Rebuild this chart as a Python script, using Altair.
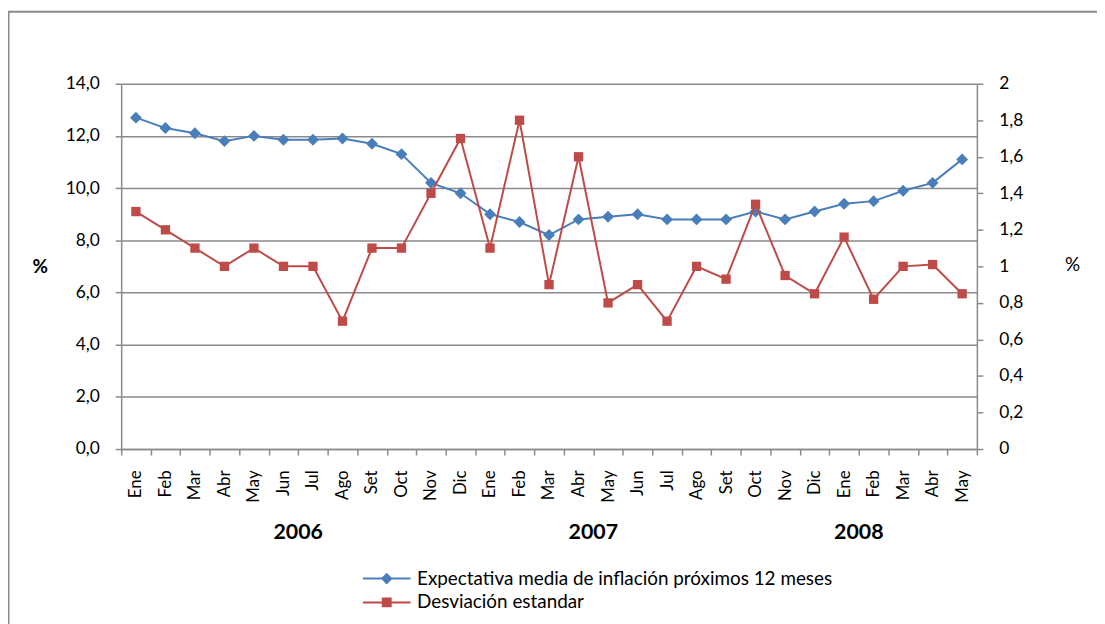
import altair as alt
import pandas as pd

# ---------------- data ----------------
meses = ["Ene", "Feb", "Mar", "Abr", "May", "Jun", "Jul", "Ago", "Set", "Oct", "Nov", "Dic"]
anios = ["2006", "2007", "2008"]
meses_por_anio = [12, 12, 5]

expectativa = [12.7, 12.3, 12.1, 11.8, 12.0, 11.85, 11.85, 11.9, 11.7, 11.3, 10.2, 9.8,
               9.0, 8.7, 8.2, 8.8, 8.9, 9.0, 8.8, 8.8, 8.8, 9.1, 8.8, 9.1,
               9.4, 9.5, 9.9, 10.2, 11.1]
desviacion = [1.3, 1.2, 1.1, 1.0, 1.1, 1.0, 1.0, 0.7, 1.1, 1.1, 1.4, 1.7,
              1.1, 1.8, 0.9, 1.6, 0.8, 0.9, 0.7, 1.0, 0.93, 1.34, 0.95, 0.85,
              1.16, 0.82, 1.0, 1.01, 0.85]

series = ["Expectativa media de inflación próximos 12 meses", "Desviación estandar"]
anio_ancla = ["Jul 2006", "May 2007", "Feb 2008"]
ticks_izq = [0, 2, 4, 6, 8, 10, 12, 14]
ticks_der = [0, 0.2, 0.4, 0.6, 0.8, 1.0, 1.2, 1.4, 1.6, 1.8, 2.0]

AZUL = "#4A7EBB"
ROJO = "#BE4B48"
GRIS = "#8A8A8A"
FUENTE = "Lato"

cats = [f"{m} {a}" for a, n in zip(anios, meses_por_anio) for m in meses[:n]]
df = pd.DataFrame({"mes": cats, "exp": expectativa, "desv": desviacion})
df_anios = pd.DataFrame({"mes": anio_ancla, "anio": anios})
df_leg = pd.DataFrame({"serie": series})
df_marco = pd.DataFrame({"k": [0]})

# ---------------- encodings ----------------
x_scale = alt.Scale(type="band", domain=cats, paddingInner=0, paddingOuter=0)
x_axis = alt.Axis(
    title=None,
    labelExpr="isValid(datum.value) ? split(datum.value, ' ')[0] : ''",
    labelAngle=270,
    labelAlign="right", labelBaseline="middle", labelPadding=15,
    labelFont=FUENTE, labelFontSize=17, labelColor="#000",
    tickBand="extent", tickSize=6, tickColor=GRIS, tickWidth=1.5,
    domainColor=GRIS, domainWidth=1.5, grid=False,
)


def X(bp=0.5):
    return alt.X("mes:N", scale=x_scale, axis=x_axis, bandPosition=bp)


y_izq = alt.Y(
    "exp:Q",
    scale=alt.Scale(domain=[0, 14], nice=False, zero=True),
    axis=alt.Axis(
        orient="left", values=ticks_izq,
        labelExpr="replace(format(datum.value, '.1f'), '.', ',')",
        grid=True, gridColor=GRIS, gridWidth=1.5,
        tickSize=6, tickColor=GRIS, tickWidth=1.5,
        domainColor=GRIS, domainWidth=1.5,
        labelPadding=16, labelFont=FUENTE, labelFontSize=17.5, labelColor="#000",
        title="%", titleAngle=0, titleX=-82, titleY=184, titleAlign="center",
        titleBaseline="middle", titleFont=FUENTE, titleFontSize=19,
        titleFontWeight="bold", titleColor="#000",
    ),
)

y_der = alt.Y(
    "desv:Q",
    scale=alt.Scale(domain=[0, 2], nice=False, zero=True),
    axis=alt.Axis(
        orient="right", values=ticks_der,
        labelExpr="replace(format(datum.value, '.1~f'), '.', ',')",
        grid=False,
        tickSize=6, tickColor=GRIS, tickWidth=1.5,
        domainColor=GRIS, domainWidth=1.5,
        labelPadding=16, labelFont=FUENTE, labelFontSize=17.5, labelColor="#000",
        title="%", titleAngle=0, titleX=96, titleY=182, titleAlign="center",
        titleBaseline="middle", titleFont=FUENTE, titleFontSize=19,
        titleFontWeight="normal", titleColor="#000",
    ),
)

# ---------------- layers ----------------
marco = alt.Chart(df_marco).mark_rect(
    fillOpacity=0, stroke=GRIS, strokeWidth=2
).encode(
    x=alt.value(-113.5), x2=alt.value(1000), y=alt.value(-72.5), y2=alt.value(600)
)

base = alt.Chart(df)
azul = alt.layer(
    base.mark_line(color=AZUL, strokeWidth=2).encode(x=X(), y=y_izq),
    base.mark_point(shape="diamond", filled=True, size=144, color=AZUL, opacity=1).encode(x=X(), y=y_izq),
)
rojo = alt.layer(
    base.mark_line(color=ROJO, strokeWidth=2).encode(x=X(), y=y_der),
    base.mark_point(shape="square", filled=True, size=88, color=ROJO, opacity=1).encode(x=X(), y=y_der),
)

textos_anio = alt.Chart(df_anios).mark_text(
    font=FUENTE, fontSize=21.5, fontWeight="bold", baseline="alphabetic",
    align="center", color="#000"
).encode(x=X(0), y=alt.value(459), text="anio:N")

paths = [
    "M-4.8,0H4.8M0,-0.9L0.9,0L0,0.9L-0.9,0Z",
    "M-4.8,0H4.8M-0.8,-0.8H0.8V0.8H-0.8Z",
]
leg_cfg = alt.Legend(
    title=None, orient="none", legendX=258, legendY=489, padding=0,
    labelFont=FUENTE, labelFontSize=19, labelColor="#000", labelLimit=0,
    symbolSize=100, symbolStrokeWidth=2, labelOffset=21, rowPadding=4,
)
leyenda = alt.Chart(df_leg).transform_filter("false").mark_point(
    filled=True, opacity=1
).encode(
    shape=alt.Shape("serie:N", scale=alt.Scale(domain=series, range=paths), legend=leg_cfg),
    fill=alt.Fill("serie:N", scale=alt.Scale(domain=series, range=[AZUL, ROJO]), legend=leg_cfg),
    stroke=alt.Stroke("serie:N", scale=alt.Scale(domain=series, range=[AZUL, ROJO]), legend=leg_cfg),
)

chart = alt.layer(marco, azul, rojo, textos_anio, leyenda).resolve_scale(
    y="independent"
).properties(
    width=862, height=368,
    padding={"left": 114, "top": 74, "right": 121, "bottom": 174},
    autosize=alt.AutoSizeParams(type="none"),
    background="white",
).configure_view(stroke=None)

chart.save("out.html", embed_options={"renderer": "svg", "actions": False})
